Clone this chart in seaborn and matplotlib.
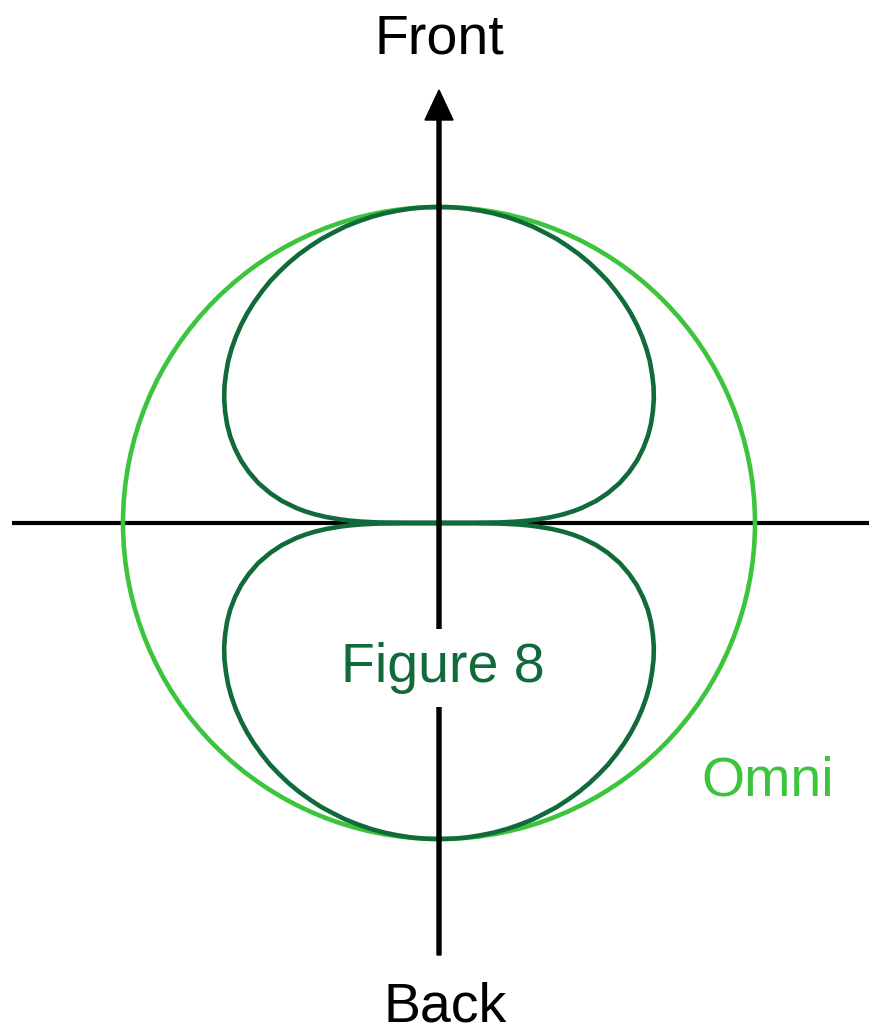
import numpy as np
import pandas as pd
import matplotlib.pyplot as plt
import seaborn as sns

sns.set_theme(style="white")
plt.rcParams["font.family"] = ["Liberation Sans", "DejaVu Sans"]

# figure-8 pattern, one quadrant (deg from front, relative radius)
fig8_angle = [0, 2.5, 5, 7.5, 10, 12.5, 15, 17.5, 20, 22.5, 25, 27.5, 30, 32.5,
              35, 37.5, 40, 42.5, 45, 47.5, 50, 52.5, 55, 57.5, 60, 62.5, 65,
              67.5, 70, 72.5, 75, 77.5, 80, 82, 84, 85, 86, 87, 88, 88.5, 89,
              89.5, 90]
fig8_radius = [1.000, 1.000, 0.999, 0.997, 0.995, 0.992, 0.988, 0.984, 0.978,
               0.973, 0.966, 0.959, 0.951, 0.942, 0.933, 0.922, 0.911, 0.899,
               0.886, 0.872, 0.857, 0.841, 0.823, 0.805, 0.785, 0.763, 0.740,
               0.715, 0.687, 0.657, 0.623, 0.586, 0.542, 0.502, 0.454, 0.426,
               0.394, 0.356, 0.309, 0.280, 0.243, 0.190, 0.0]
omni_radius = 1.0

labels = {"front": "Front", "back": "Back", "fig8": "Figure 8", "omni": "Omni"}

OMNI_COL = "#3cc43c"
FIG8_COL = "#116a3a"

# pattern is symmetric front/back and left/right
a = np.array(fig8_angle)
r = np.array(fig8_radius)
ang = np.concatenate([a, 180 - a[::-1], 180 + a, 360 - a[::-1]])
rad = np.concatenate([r, r[::-1], r, r[::-1]])
th = np.deg2rad(ang)
df = pd.DataFrame({"x": rad * np.sin(th), "y": rad * np.cos(th)})

R = 316.0  # px per unit
cx, cy = 439, 523
W, H = 869, 1035

fig = plt.figure(figsize=(W / 100, H / 100), dpi=100)
ax = fig.add_axes([0, 0, 1, 1])
ax.set_xlim(-cx / R, (W - cx) / R)
ax.set_ylim(-(H - cy) / R, cy / R)
ax.set_aspect("equal")
ax.axis("off")

def px(x, y):
    return (x - cx) / R, (cy - y) / R

# axes lines
ax.plot([px(12, 0)[0], px(W, 0)[0]], [0, 0], color="black", lw=3, zorder=2,
        solid_capstyle="butt")
y0 = px(0, 955)[1]
y1 = px(0, 90)[1]
ax.arrow(0, y0, 0, y1 - y0, width=4 / R, head_width=28 / R, head_length=30 / R,
         length_includes_head=True, color="black", zorder=4)

# omni circle
ax.add_patch(plt.Circle((0, 0), omni_radius, fill=False, color=OMNI_COL, lw=3.3, zorder=3))

# figure 8
sns.lineplot(data=df, x="x", y="y", sort=False, estimator=None, color=FIG8_COL,
             lw=3.3, ax=ax, zorder=3, solid_joinstyle="round")
ax.set_xlabel("")
ax.set_ylabel("")

fs = 40
ax.text(*px(439.5, 53), labels["front"], fontsize=fs, ha="center", va="baseline",
        color="black")
ax.text(*px(445, 1022), labels["back"], fontsize=fs, ha="center", va="baseline",
        color="black")
ax.text(*px(442.5, 682), labels["fig8"], fontsize=fs, ha="center", va="baseline",
        color=FIG8_COL, zorder=5,
        bbox=dict(facecolor="white", edgecolor="none", pad=9))
ax.text(*px(768, 795), labels["omni"], fontsize=fs, ha="center", va="baseline",
        color=OMNI_COL)

fig.savefig("out.png", dpi=100)
